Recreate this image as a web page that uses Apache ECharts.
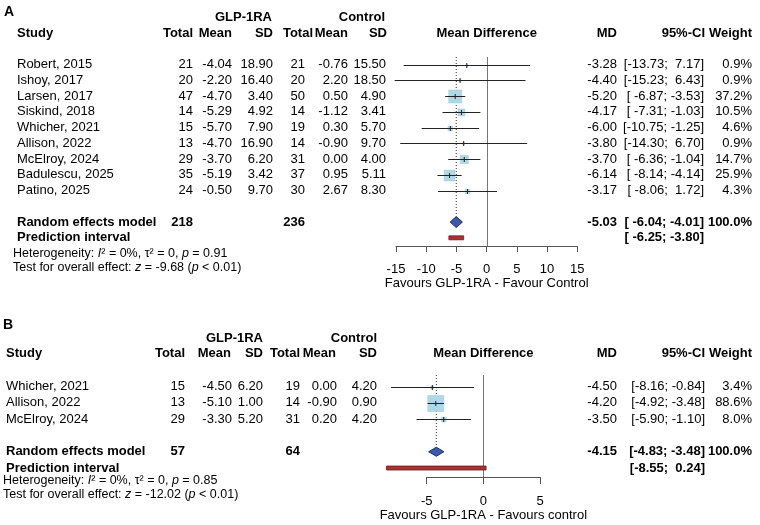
<!DOCTYPE html>
<html>
<head>
<meta charset="utf-8">
<script src="https://cdn.jsdelivr.net/npm/echarts@6/dist/echarts.min.js"></script>
<style>
  html, body { margin: 0; padding: 0; background: #fff; }
  #chart { width: 760px; height: 525px; }
</style>
</head>
<body>
<div id="chart"></div>
<script>
// panel A - all studies
const studyA = ['Robert, 2015', 'Ishoy, 2017', 'Larsen, 2017', 'Siskind, 2018', 'Whicher, 2021',
  'Allison, 2022', 'McElroy, 2024', 'Badulescu, 2025', 'Patino, 2025'];
const glpNA = [21, 20, 47, 14, 15, 13, 29, 35, 24];
const glpMeanA = [-4.04, -2.20, -4.70, -5.29, -5.70, -4.70, -3.70, -5.19, -0.50];
const glpSdA = [18.90, 16.40, 3.40, 4.92, 7.90, 16.90, 6.20, 3.42, 9.70];
const ctlNA = [21, 20, 50, 14, 19, 14, 31, 37, 30];
const ctlMeanA = [-0.76, 2.20, 0.50, -1.12, 0.30, -0.90, 0.00, 0.95, 2.67];
const ctlSdA = [15.50, 18.50, 4.90, 3.41, 5.70, 9.70, 4.00, 5.11, 8.30];
const mdA = [-3.28, -4.40, -5.20, -4.17, -6.00, -3.80, -3.70, -6.14, -3.17];
const loA = [-13.73, -15.23, -6.87, -7.31, -10.75, -14.30, -6.36, -8.14, -8.06];
const hiA = [7.17, 6.43, -3.53, -1.03, -1.25, 6.70, -1.04, -4.14, 1.72];
const weightA = [0.9, 0.9, 37.2, 10.5, 4.6, 0.9, 14.7, 25.9, 4.3];
const totalsA = [218, 236];
const pooledA = [-5.03, -6.04, -4.01];   // MD, lower, upper
const predA = [-6.25, -3.80];
const hetA = ['0%', '0', '0.91'];        // I2, tau2, p
const testA = ['-9.68', '< 0.01'];       // z, p
const ticksA = [-15, -10, -5, 0, 5, 10, 15];

// panel B - subgroup
const studyB = ['Whicher, 2021', 'Allison, 2022', 'McElroy, 2024'];
const glpNB = [15, 13, 29];
const glpMeanB = [-4.50, -5.10, -3.30];
const glpSdB = [6.20, 1.00, 5.20];
const ctlNB = [19, 14, 31];
const ctlMeanB = [0.00, -0.90, 0.20];
const ctlSdB = [4.20, 0.90, 4.20];
const mdB = [-4.50, -4.20, -3.50];
const loB = [-8.16, -4.92, -5.90];
const hiB = [-0.84, -3.48, -1.10];
const weightB = [3.4, 88.6, 8.0];
const totalsB = [57, 64];
const pooledB = [-4.15, -4.83, -3.48];
const predB = [-8.55, 0.24];
const hetB = ['0%', '0', '0.85'];
const testB = ['-12.02', '< 0.01'];
const ticksB = [-5, 0, 5];

const FONT = '"Liberation Sans", Arial, Helvetica, sans-serif';

// layout of each panel (pixels / row units)
const layA = {
    grid: {left: 396, top: 57, width: 181.3, height: 189},
    rows: [-0.48, 11.52], grpRow: -2.98, headRow: -2.0, hetRow: 11.97, testRow: 12.86,
    studyX: 17, footX: 13,
    col: {n1: 193, m1: 232, s1: 273, n2: 305, m2: 348, s2: 386, md: 617, ci: 704, w: 752},
    head: {g1: 272, g2: 385, n1: 193, m1: 232, s1: 273, n2: 313, m2: 348, s2: 387, md: 617, ci: 705, w: 752},
    maxSide: 13, halfH: 5.5, tickLen: 6, labelMargin: 17, nameGap: 31
};
const layB = {
    grid: {left: 426.7, top: 375, width: 113.3, height: 102},
    rows: [-0.71, 5.55], grpRow: -2.98, headRow: -2.06, hetRow: 5.79, testRow: 6.65,
    studyX: 6, footX: 3,
    col: {n1: 185, m1: 232, s1: 263, n2: 300, m2: 337, s2: 377, md: 617, ci: 705, w: 752},
    head: {g1: 263, g2: 377, n1: 185, m1: 231, s1: 263, n2: 300, m2: 336, s2: 377, md: 617, ci: 705, w: 752},
    maxSide: 16, halfH: 4.5, tickLen: 7, labelMargin: 18, nameGap: 32
};

function fmt(v) {
    return v.toFixed(2);
}

function pad(s, n) {
    while (s.length < n) s = ' ' + s;
    return s;
}

// R-style CI strings, padded to the column width
function ciStrings(lo, hi) {
    const L = lo.map(fmt), H = hi.map(fmt);
    const wl = Math.max(...L.map(s => s.length));
    const wh = Math.max(...H.map(s => s.length));
    return L.map((l, i) => '[' + pad(l, wl) + '; ' + pad(H[i], wh) + ']');
}

function footText(het, test) {
    return [
        'Heterogeneity: {i|I}\u00b2 = ' + het[0] + ', \u03c4\u00b2 = ' + het[1] + ', {i|p} = ' + het[2],
        'Test for overall effect: {i|z} = ' + test[0] + ' ({i|p} ' + test[1] + ')'
    ];
}

function tableLines(d, L) {
    const n = d.study.length;
    const ci = ciStrings(d.lo.concat([d.pooled[1], d.pred[0]]), d.hi.concat([d.pooled[2], d.pred[1]]));
    const H = L.head, C = L.col;
    const lines = [];
    lines.push({row: L.grpRow, cells: [[H.g1, 'GLP-1RA', 'right', 1], [H.g2, 'Control', 'right', 1]]});
    lines.push({row: L.headRow, cells: [
        [L.studyX, 'Study', 'left', 1], [H.n1, 'Total', 'right', 1], [H.m1, 'Mean', 'right', 1],
        [H.s1, 'SD', 'right', 1], [H.n2, 'Total', 'right', 1], [H.m2, 'Mean', 'right', 1],
        [H.s2, 'SD', 'right', 1], ['mid', 'Mean Difference', 'center', 1], [H.md, 'MD', 'right', 1],
        [H.ci, '95%-CI', 'right', 1], [H.w, 'Weight', 'right', 1]
    ]});
    for (let i = 0; i < n; i++) {
        lines.push({row: i, cells: [
            [L.studyX, d.study[i], 'left', 0], [C.n1, String(d.glpN[i]), 'right', 0],
            [C.m1, fmt(d.glpMean[i]), 'right', 0], [C.s1, fmt(d.glpSd[i]), 'right', 0],
            [C.n2, String(d.ctlN[i]), 'right', 0], [C.m2, fmt(d.ctlMean[i]), 'right', 0],
            [C.s2, fmt(d.ctlSd[i]), 'right', 0], [C.md, fmt(d.md[i]), 'right', 0],
            [C.ci, ci[i], 'right', 0], [C.w, d.weight[i].toFixed(1) + '%', 'right', 0]
        ]});
    }
    lines.push({row: n + 1, cells: [
        [L.studyX, 'Random effects model', 'left', 1], [C.n1, String(d.totals[0]), 'right', 1],
        [C.n2, String(d.totals[1]), 'right', 1], [C.md, fmt(d.pooled[0]), 'right', 1],
        [C.ci, ci[n], 'right', 1], [C.w, '100.0%', 'right', 1]
    ]});
    lines.push({row: n + 2, cells: [[L.studyX, 'Prediction interval', 'left', 1], [C.ci, ci[n + 1], 'right', 1]]});
    const ft = footText(d.het, d.test);
    lines.push({row: L.hetRow, cells: [[L.footX, ft[0], 'left', 0, 12.5]]});
    lines.push({row: L.testRow, cells: [[L.footX, ft[1], 'left', 0, 12.5]]});
    return lines;
}

function tableSeries(lines, gi, ticks) {
    return {
        type: 'custom', xAxisIndex: gi, yAxisIndex: gi, silent: true, clip: false, z: 5,
        data: lines.map(l => [0, l.row]),
        encode: {x: 0, y: 1},
        renderItem: function (params, api) {
            const l = lines[params.dataIndex];
            const y = api.coord([0, api.value(1)])[1];
            const mid = (api.coord([ticks[0], 0])[0] + api.coord([ticks[ticks.length - 1], 0])[0]) / 2;
            return {
                type: 'group',
                children: l.cells.map(c => {
                    const size = c[4] || 13;
                    return {
                        type: 'text', x: c[0] === 'mid' ? mid : c[0], y: y,
                        style: {
                            text: c[1], align: c[2], verticalAlign: 'middle', fill: '#000',
                            fontFamily: FONT, fontSize: size, fontWeight: c[3] ? 'bold' : 'normal',
                            rich: {i: {fontStyle: 'italic', fontFamily: FONT, fontSize: size, fill: '#000'}}
                        }
                    };
                })
            };
        }
    };
}

// squares + CI lines of each study
function forestSeries(md, lo, hi, w, L, gi) {
    const wmax = Math.max(...w);
    return {
        type: 'custom', xAxisIndex: gi, yAxisIndex: gi, silent: true, clip: false, z: 3,
        data: md.map((m, i) => [m, i, lo[i], hi[i], w[i]]),
        encode: {x: 0, y: 1},
        renderItem: function (params, api) {
            const row = api.value(1);
            const c = api.coord([api.value(0), row]);
            const a = api.coord([api.value(2), row]);
            const b = api.coord([api.value(3), row]);
            const s = L.maxSide * Math.sqrt(api.value(4) / wmax);
            const y = Math.round(c[1]) + 0.5;
            return {
                type: 'group',
                children: [
                    {type: 'rect', shape: {x: c[0] - s / 2, y: y - s / 2, width: s, height: s},
                        style: {fill: '#add8e6', stroke: '#9cc8d8', lineWidth: 0.5}},
                    {type: 'line', shape: {x1: a[0], y1: y, x2: b[0], y2: y}, style: {stroke: '#222', lineWidth: 1}},
                    {type: 'line', shape: {x1: c[0], y1: y - 2.5, x2: c[0], y2: y + 2.5}, style: {stroke: '#222', lineWidth: 1}}
                ]
            };
        }
    };
}

// zero line, dotted pooled line, diamond and prediction bar
function summarySeries(pooled, pred, row, L, gi) {
    return {
        type: 'custom', xAxisIndex: gi, yAxisIndex: gi, silent: true, clip: false, z: 2,
        data: [[pooled[0], row, pooled[1], pooled[2], pred[0], pred[1]]],
        encode: {x: 0, y: 1},
        renderItem: function (params, api) {
            const r = api.value(1);
            const c = api.coord([api.value(0), r]);
            const l = api.coord([api.value(2), r]);
            const h = api.coord([api.value(3), r]);
            const pl = api.coord([api.value(4), r + 1]);
            const ph = api.coord([api.value(5), r + 1]);
            const zt = api.coord([0, L.rows[0]]);
            const zb = api.coord([0, L.rows[1]]);
            const dt = api.coord([api.value(0), L.rows[0]]);
            const zx = Math.round(zt[0]) + 0.5;
            return {
                type: 'group',
                children: [
                    {type: 'line', shape: {x1: zx, y1: zt[1], x2: zx, y2: zb[1]}, style: {stroke: '#777', lineWidth: 1}},
                    {type: 'line', shape: {x1: c[0], y1: dt[1], x2: c[0], y2: c[1] - L.halfH},
                        style: {stroke: '#333', lineWidth: 1, lineDash: [1, 2]}},
                    {type: 'polygon', shape: {points: [[l[0], c[1]], [c[0], c[1] - L.halfH], [h[0], c[1]], [c[0], c[1] + L.halfH]]},
                        style: {fill: '#3b5ba8', stroke: '#1d2f6a', lineWidth: 1}},
                    {type: 'rect', shape: {x: pl[0], y: pl[1] - 2, width: ph[0] - pl[0], height: 4},
                        style: {fill: '#a83232', stroke: '#6e1c1c', lineWidth: 0.8}}
                ]
            };
        }
    };
}

function xAxisOf(ticks, gi, name, L) {
    return {
        type: 'value', gridIndex: gi, min: ticks[0], max: ticks[ticks.length - 1], interval: ticks[1] - ticks[0],
        axisLine: {show: true, onZero: false, lineStyle: {color: '#555', width: 1}},
        axisTick: {show: true, length: L.tickLen, lineStyle: {color: '#555'}},
        axisLabel: {fontSize: 13, color: '#000', fontFamily: FONT, margin: L.labelMargin},
        splitLine: {show: false},
        name: name, nameLocation: 'middle', nameGap: L.nameGap,
        nameTextStyle: {fontSize: 13, color: '#000', fontFamily: FONT}
    };
}

function yAxisOf(gi, L) {
    return {type: 'value', gridIndex: gi, inverse: true, min: L.rows[0], max: L.rows[1], show: false};
}

const dataA = {study: studyA, glpN: glpNA, glpMean: glpMeanA, glpSd: glpSdA, ctlN: ctlNA, ctlMean: ctlMeanA,
    ctlSd: ctlSdA, md: mdA, lo: loA, hi: hiA, weight: weightA, totals: totalsA, pooled: pooledA, pred: predA,
    het: hetA, test: testA};
const dataB = {study: studyB, glpN: glpNB, glpMean: glpMeanB, glpSd: glpSdB, ctlN: ctlNB, ctlMean: ctlMeanB,
    ctlSd: ctlSdB, md: mdB, lo: loB, hi: hiB, weight: weightB, totals: totalsB, pooled: pooledB, pred: predB,
    het: hetB, test: testB};

const chart = echarts.init(document.getElementById('chart'));
chart.setOption({
    animation: false,
    backgroundColor: '#fff',
    grid: [layA.grid, layB.grid],
    xAxis: [
        xAxisOf(ticksA, 0, 'Favours GLP-1RA - Favour Control', layA),
        xAxisOf(ticksB, 1, 'Favours GLP-1RA - Favours control', layB)
    ],
    yAxis: [yAxisOf(0, layA), yAxisOf(1, layB)],
    graphic: [
        {type: 'text', left: 4, top: 5, style: {text: 'A', fontFamily: FONT, fontSize: 14, fontWeight: 'bold', fill: '#000'}},
        {type: 'text', left: 3, top: 318, style: {text: 'B', fontFamily: FONT, fontSize: 14, fontWeight: 'bold', fill: '#000'}}
    ],
    series: [
        summarySeries(pooledA, predA, studyA.length + 1, layA, 0),
        forestSeries(mdA, loA, hiA, weightA, layA, 0),
        tableSeries(tableLines(dataA, layA), 0, ticksA),
        summarySeries(pooledB, predB, studyB.length + 1, layB, 1),
        forestSeries(mdB, loB, hiB, weightB, layB, 1),
        tableSeries(tableLines(dataB, layB), 1, ticksB)
    ]
});
</script>
</body>
</html>
